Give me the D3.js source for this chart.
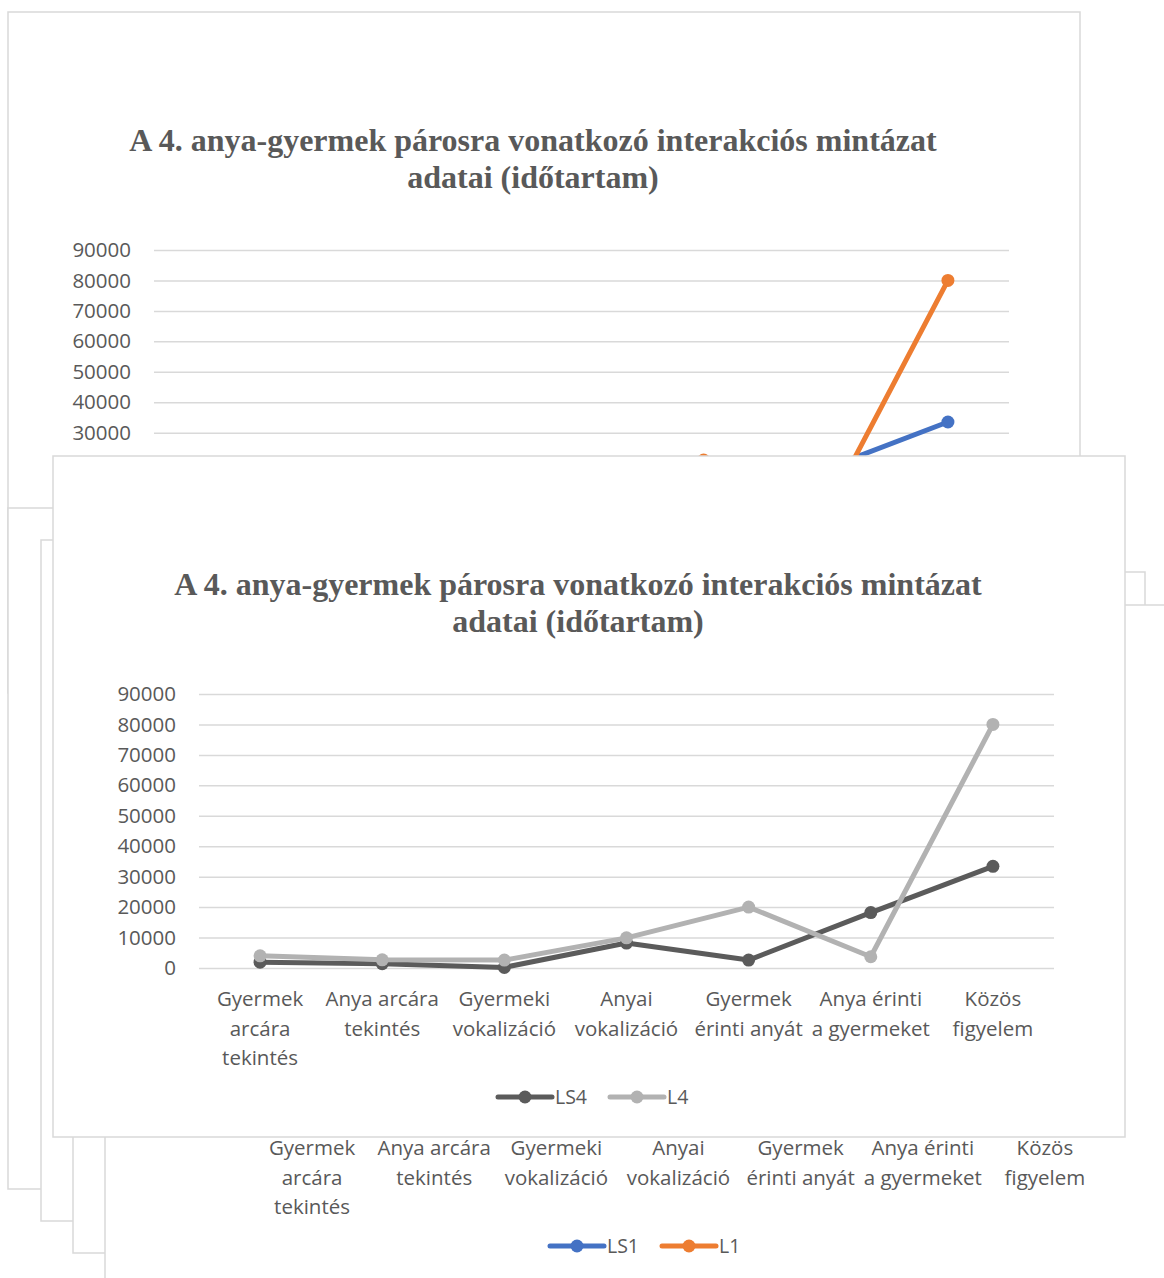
<!DOCTYPE html>
<html><head><meta charset="utf-8">
<script src="https://cdn.jsdelivr.net/npm/d3@7"></script>
<style>body{margin:0;background:#fff}</style>
</head><body>
<svg id="c" width="1164" height="1278"></svg>
<script>
// ---- data ----
const categories = ["Gyermek arcára tekintés","Anya arcára tekintés","Gyermeki vokalizáció","Anyai vokalizáció","Gyermek érinti anyát","Anya érinti a gyermeket","Közös figyelem"];
const categoryLines = [["Gyermek","arcára","tekintés"],["Anya arcára","tekintés"],["Gyermeki","vokalizáció"],["Anyai","vokalizáció"],["Gyermek","érinti anyát"],["Anya érinti","a gyermeket"],["Közös","figyelem"]];
const yTicks = [0,10000,20000,30000,40000,50000,60000,70000,80000,90000];
const titleLines = ["A 4. anya-gyermek párosra vonatkozó interakciós mintázat","adatai (időtartam)"];

const namesBack = ["LS1","L1"];
const valuesLS1 = [1900, 1400, 200, 8200, 2600, 18200, 33500];
const valuesL1  = [4000, 2700, 2600, 9900, 21000, 3700, 80000];
const colorsBack = ["#4472C4","#ED7D31"];

const namesFront = ["LS4","L4"];
const valuesLS4 = [1900, 1400, 200, 8200, 2600, 18200, 33400];
const valuesL4  = [4000, 2700, 2600, 9900, 20000, 3700, 80000];
const colorsFront = ["#5B5B5B","#B2B2B2"];

// ---- drawing ----
const svg = d3.select("#c");
const PW = 1072, PH = 681;
const txt = "#595959", grid = "#D9D9D9";
const sans = "'Open Sans','Noto Sans',sans-serif";

function drawPanel(x0, y0, names, values, colors, parts) {
  const g = svg.append("g").attr("transform", `translate(${x0},${y0})`);
  g.append("rect").attr("x",0).attr("y",0).attr("width",PW).attr("height",PH)
    .attr("fill","#fff").attr("stroke",grid).attr("stroke-width",1.5);
  if (!names) return;
  const show = p => !parts || parts.includes(p);

  const x = d3.scaleBand().domain(categories).range([146, 1001]);
  const cx = c => x(c) + x.bandwidth()/2;
  const y = d3.scaleLinear().domain([0, 90000]).range([512, 238]);

  if (show("title")) {
    g.append("text").attr("x",525).attr("y",139).attr("text-anchor","middle")
      .attr("font-family","'Liberation Serif','Times New Roman',serif").attr("font-weight","bold")
      .attr("font-size",32).attr("fill",txt)
      .selectAll("tspan").data(titleLines).join("tspan")
      .attr("x",525).attr("dy",(d,i)=> i===0?0:37).text(d=>d);
  }

  if (show("yaxis")) {
    const ya = g.append("g").attr("transform","translate(146,0)")
      .call(d3.axisLeft(y).tickValues(yTicks).tickSize(-855).tickPadding(23).tickFormat(d3.format("d")));
    ya.select(".domain").remove();
    ya.selectAll("line").attr("stroke",grid).attr("stroke-width",1.5);
    ya.selectAll("text").attr("font-family",sans).attr("font-size",20.5).attr("fill",txt);
  }

  if (show("xlabels")) {
    const xl = g.append("g");
    categories.forEach((c,i)=>{
      const t = xl.append("text").attr("x",cx(c)).attr("y",550).attr("text-anchor","middle")
        .attr("font-family",sans).attr("font-size",20.5).attr("fill",txt);
      t.selectAll("tspan").data(categoryLines[i]).join("tspan")
        .attr("x",cx(c)).attr("dy",(d,j)=> j===0?0:29.5).text(d=>d);
    });
  }

  if (show("series")) {
    const line = d3.line().x((d,i)=>cx(categories[i])).y(d=>y(d));
    values.forEach((vals,k)=>{
      const s = g.append("g");
      s.append("path").datum(vals).attr("d",line).attr("fill","none")
        .attr("stroke",colors[k]).attr("stroke-width",5).attr("stroke-linejoin","round").attr("stroke-linecap","round");
      s.selectAll("circle").data(vals).join("circle")
        .attr("cx",(d,i)=>cx(categories[i])).attr("cy",d=>y(d)).attr("r",6.5).attr("fill",colors[k]);
    });
  }

  if (show("legend")) {
    const lg = g.append("g").attr("transform","translate(0,641)");
    const lx = [445, 557];
    names.forEach((n,k)=>{
      lg.append("line").attr("x1",lx[k]).attr("x2",lx[k]+54).attr("y1",0).attr("y2",0)
        .attr("stroke",colors[k]).attr("stroke-width",5).attr("stroke-linecap","round");
      lg.append("circle").attr("cx",lx[k]+27).attr("cy",0).attr("r",6.5).attr("fill",colors[k]);
      lg.append("text").attr("x",lx[k]+57).attr("y",7).attr("font-family",sans)
        .attr("font-size",19.5).attr("fill",txt).text(n);
    });
  }
}

// stacked panels, back to front (only the parts that stay visible are drawn on covered panels)
drawPanel(8, 12, namesBack, [valuesLS1, valuesL1], colorsBack, ["title","yaxis","series"]);
drawPanel(8, 508);
drawPanel(41, 540);
drawPanel(73, 572);
drawPanel(105, 605, namesBack, [valuesLS1, valuesL1], colorsBack, ["xlabels","legend"]);
drawPanel(53, 456, namesFront, [valuesLS4, valuesL4], colorsFront);
</script>
</body></html>
